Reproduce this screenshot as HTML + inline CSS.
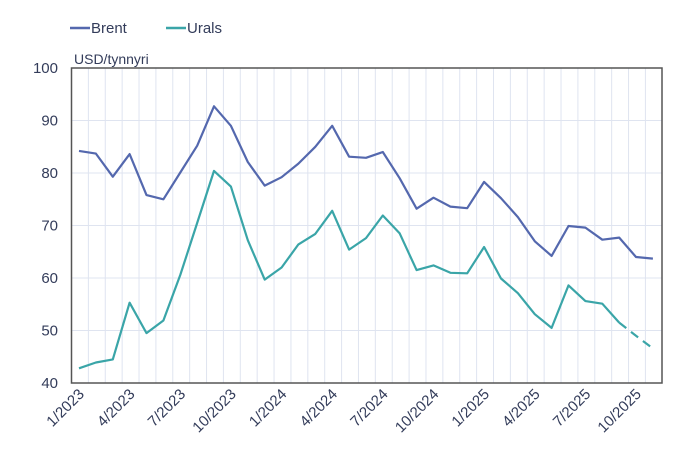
<!DOCTYPE html>
<html><head><meta charset="utf-8"><style>
body{margin:0;background:#fff;}
svg{display:block;font-family:"Liberation Sans",sans-serif;}
</style></head><body>
<svg id="c" width="695" height="455" viewBox="0 0 695 455" xmlns="http://www.w3.org/2000/svg"></svg>
<script>
const s=document.getElementById('c');
const L=71.5,R=662,T=68,B=383,dx=16.88;
const X=i=>79+i*dx, Y=v=>B-(v-40)*(B-T)/60;
let h='';
for(let k=1;k<35;k++){const x=L+k*dx;h+=`<line x1="${x}" y1="${T}" x2="${x}" y2="${B}" stroke="#dfe4f0" stroke-width="1"/>`;}
for(let v=50;v<=90;v+=10){h+=`<line x1="${L}" y1="${Y(v)}" x2="${R}" y2="${Y(v)}" stroke="#dfe4f0" stroke-width="1"/>`;}
for(let v=40;v<=100;v+=10){h+=`<text x="58" y="${Y(v)+5}" text-anchor="end" font-size="15" fill="#333c5a">${v}</text>`;}
h+=`<rect x="${L}" y="${T}" width="${R-L}" height="${B-T}" fill="none" stroke="#555" stroke-width="1.5"/>`;
const brent=[84.2,83.7,79.3,83.6,75.8,75.0,80.1,85.2,92.7,89.0,82.1,77.6,79.2,81.8,85.0,89.0,83.1,82.9,84.0,79.0,73.2,75.3,73.6,73.3,78.3,75.2,71.6,67.0,64.2,69.9,69.6,67.3,67.7,64.0,63.7];
const urals=[42.8,43.9,44.5,55.3,49.5,51.9,60.6,70.5,80.4,77.4,67.2,59.7,62.0,66.4,68.4,72.8,65.4,67.6,71.9,68.5,61.5,62.4,61.0,60.9,65.9,59.9,57.1,53.1,50.5,58.6,55.6,55.1,51.5,49.0,46.6];
const pts=(a,s0,e)=>a.slice(s0,e).map((v,i)=>X(i+s0).toFixed(1)+','+Y(v).toFixed(1)).join(' ');
h+=`<polyline points="${pts(brent,0,35)}" fill="none" stroke="#5468ae" stroke-width="2.2" stroke-linejoin="round"/>`;
h+=`<polyline points="${pts(urals,0,33)}" fill="none" stroke="#3aa5a8" stroke-width="2.2" stroke-linejoin="round"/>`;
h+=`<polyline points="${pts(urals,32,35)}" fill="none" stroke="#3aa5a8" stroke-width="2.2" stroke-dasharray="9,6"/>`;
const labs=['1/2023','4/2023','7/2023','10/2023','1/2024','4/2024','7/2024','10/2024','1/2025','4/2025','7/2025','10/2025'];
labs.forEach((t,j)=>{const x=X(j*3)+6,y=B+12;h+=`<text x="${x}" y="${y}" transform="rotate(-45 ${x} ${y})" text-anchor="end" font-size="15" fill="#333c5a">${t}</text>`;});
h+=`<text x="74" y="64" font-size="14" fill="#333c5a">USD/tynnyri</text>`;
h+=`<line x1="70" y1="28" x2="90" y2="28" stroke="#5468ae" stroke-width="2.5"/><text x="91" y="33" font-size="15" fill="#333c5a">Brent</text>`;
h+=`<line x1="166" y1="28" x2="186" y2="28" stroke="#3aa5a8" stroke-width="2.5"/><text x="187" y="33" font-size="15" fill="#333c5a">Urals</text>`;
s.innerHTML=h;
</script>
</body></html>
